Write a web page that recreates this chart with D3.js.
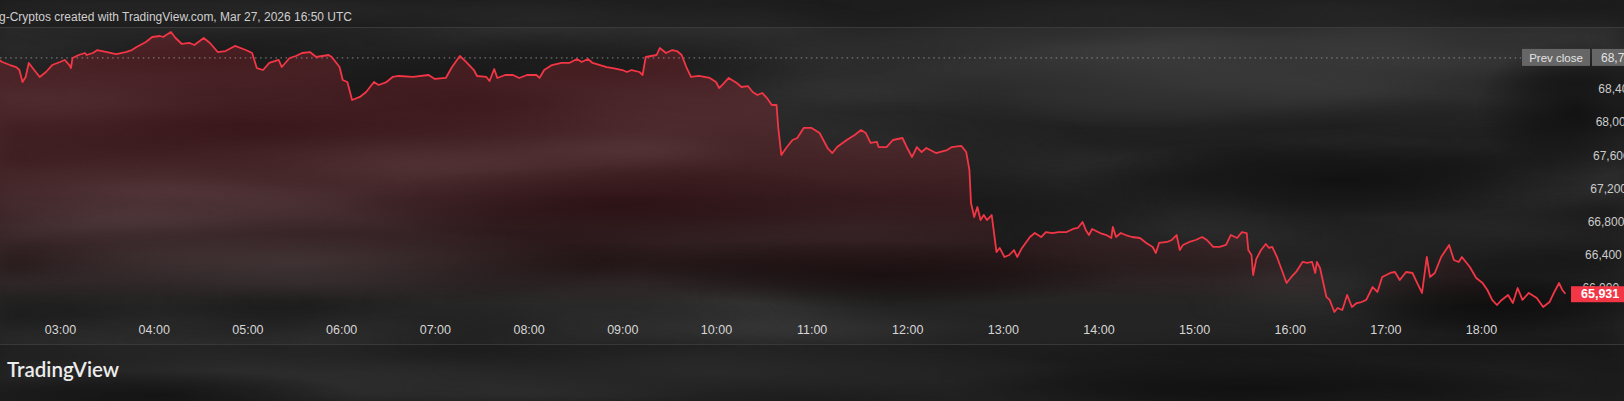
<!DOCTYPE html>
<html><head><meta charset="utf-8">
<script src="https://cdn.jsdelivr.net/npm/d3@7"></script>
<style>html,body{margin:0;padding:0;background:#222;overflow:hidden}svg{display:block}</style>
</head><body><svg id="c" width="1624" height="401"></svg>
<script>
// ---- data (chart time, minutes after 00:00) ----
const times = [
141.6,143.5,148.0,152.5,154.4,156.9,158.9,160.8,162.7,165.3,
167.2,171.7,175.5,180.0,183.2,186.4,187.7,188.3,192.8,196.0,
197.9,201.1,204.3,210.1,216.5,222.9,226.7,229.3,235.7,239.5,
244.0,246.0,251.1,254.9,258.8,263.2,266.4,272.2,276.0,281.2,
286.9,292.1,299.8,303.6,306.8,310.0,314.5,320.9,322.8,327.3,
331.8,335.6,340.1,344.6,352.9,354.8,359.3,361.2,364.4,367.6,
372.1,376.6,381.7,384.9,389.4,393.2,397.7,406.0,416.9,420.1,
427.8,431.0,436.1,440.6,445.7,447.6,453.4,455.3,458.5,460.5,
465.0,470.1,474.5,479.0,485.4,487.3,490.5,495.7,501.4,506.6,
511.0,514.9,518.1,521.3,530.2,534.1,540.5,543.0,546.9,551.4,
553.3,555.9,562.3,564.2,568.6,572.5,575.7,578.3,581.5,584.7,
589.8,596.2,600.6,602.5,605.6,608.8,613.2,616.9,620.1,623.2,
626.4,629.5,632.6,635.1,638.3,639.5,641.4,644.6,648.3,651.5,
655.8,660.2,665.3,668.4,670.3,673.4,676.6,682.2,687.2,691.0,
694.8,697.9,701.0,702.9,707.3,711.1,717.3,720.5,723.6,726.1,
729.3,732.4,738.7,745.0,748.7,754.4,757.5,759.4,760.6,762.5,
764.4,766.9,768.8,770.7,773.2,776.3,778.2,781.3,784.5,787.6,
789.5,792.6,797.0,800.2,804.6,807.7,811.5,815.9,820.3,824.0,
827.2,830.3,832.8,834.7,836.6,841.0,845.4,848.5,849.7,851.6,
854.8,857.9,861.7,866.1,870.5,874.2,876.8,878.7,883.1,886.8,
889.3,891.3,893.1,897.5,901.9,905.7,908.8,912.0,916.4,920.8,
923.9,927.1,930.8,933.3,934.0,936.5,937.7,939.6,942.8,945.9,
947.8,949.7,952.2,955.4,958.5,961.6,964.8,968.5,971.7,974.8,
976.1,977.3,979.2,983.6,985.5,988.6,990.5,993.7,996.8,999.3,
1002.5,1005.6,1008.8,1012.5,1015.6,1018.8,1023.2,1026.3,1029.2,1033.6,
1037.4,1040.5,1043.0,1046.2,1048.1,1051.2,1055.6,1060.6,1063.7,1066.9,
1068.8,1073.2,1077.6,1081.3,1084.5,1087.6,1090.7,1093.9,1097.0,1100.1,
1103.3,1106.4,1110.8,1115.2,1119.0,1123.3,1126.5,1129.6,1131.5,1133.4
];
const prices = [
68750,68726,68689,68665,68629,68484,68545,68714,68665,68593,
68545,68605,68689,68726,68750,68689,68653,68774,68810,68834,
68810,68834,68870,68846,68822,68846,68870,68907,68967,69027,
69039,69027,69087,69015,68943,68955,68931,69015,68955,68846,
68858,68919,68870,68834,68653,68629,68714,68750,68665,68774,
68798,68834,68846,68786,68810,68786,68665,68509,68484,68267,
68304,68364,68484,68448,68484,68545,68557,68545,68569,68521,
68533,68665,68798,68726,68629,68557,68545,68496,68641,68533,
68569,68569,68533,68569,68569,68533,68629,68689,68714,68714,
68762,68726,68762,68714,68665,68653,68629,68605,68629,68605,
68569,68786,68810,68894,68834,68870,68858,68810,68665,68545,
68557,68533,68484,68412,68472,68533,68472,68424,68436,68364,
68328,68352,68291,68207,68207,67942,67604,67688,67785,67809,
67930,67930,67869,67761,67688,67628,67700,67785,67845,67906,
67869,67749,67761,67700,67700,67785,67809,67688,67580,67700,
67640,67688,67628,67664,67700,67713,67640,67423,67025,66856,
66977,66820,66880,66820,66880,66434,66483,66374,66398,66458,
66374,66483,66615,66663,66615,66675,66663,66675,66675,66712,
66724,66796,66700,66639,66712,66663,66639,66603,66736,66615,
66663,66639,66615,66603,66543,66495,66422,66543,66555,66579,
66639,66458,66519,66555,66579,66615,66579,66495,66495,66519,
66639,66603,66675,66663,66458,66398,66157,66350,66458,66530,
66483,66495,66374,66217,66060,66133,66193,66314,66302,66314,
66181,66314,66241,65892,65856,65711,65759,65735,65916,65771,
65819,65831,65856,66012,65952,66133,66181,66193,66097,66193,
66181,66060,65940,66374,66133,66181,66374,66519,66338,66314,
66374,66253,66121,66060,65976,65856,65795,65856,65916,65819,
66000,65856,65940,65880,65771,65831,65952,66060,65976,65931
];
const hourLabels = ["02:00","03:00","04:00","05:00","06:00","07:00","08:00","09:00","10:00","11:00","12:00","13:00","14:00","15:00","16:00","17:00","18:00"];
const priceTicks = [66000,66400,66800,67200,67600,68000,68400];
const prevClose = 68775;
const lastPrice = 65931;
const titleText = "g-Cryptos created with TradingView.com, Mar 27, 2026 16:50 UTC";
const brandText = "TradingView";

// ---- setup ----
const W = 1624, H = 401;
const day = (m) => new Date(2026, 2, 27, 0, m);
const parseHM = d3.timeParse("%H:%M");
const toDay = (s) => { const t = parseHM(s); return day(t.getHours()*60 + t.getMinutes()); };
const fmt = d3.format(",");

const x = d3.scaleTime()
  .domain([toDay("03:00"), toDay("10:00"), toDay("18:00")])
  .range([60, 716, 1481]);
const y = d3.scaleLinear().domain([66000, 68400]).range([288, 89]);

const data = times.map((m, i) => ({t: day(m), v: prices[i]}));

const svg = d3.select("#c");
const defs = svg.append("defs");

function smoke(id, freq, seed, oct, c, a, b) {
  const f = defs.append("filter").attr("id", id)
    .attr("x", 0).attr("y", 0).attr("width", W).attr("height", H)
    .attr("filterUnits", "userSpaceOnUse")
    .attr("color-interpolation-filters", "sRGB");
  f.append("feTurbulence").attr("type", "fractalNoise").attr("baseFrequency", freq)
    .attr("numOctaves", oct).attr("seed", seed).attr("result", "n");
  f.append("feColorMatrix").attr("in", "n").attr("type", "matrix")
    .attr("values", `0 0 0 0 ${c} 0 0 0 0 ${c} 0 0 0 0 ${c} ${a} 0 0 0 ${b}`).attr("result", "m");
  f.append("feGaussianBlur").attr("in", "m").attr("stdDeviation", "10 4");
}
smoke("smokeLight", "0.0016 0.011", 7, 3, 0.26, 2.2, -0.9);
smoke("smokeDark", "0.0014 0.010", 23, 3, 0.06, 2.2, -0.92);

const rg = defs.append("linearGradient").attr("id", "redFill")
  .attr("gradientUnits", "userSpaceOnUse").attr("x1", 0).attr("x2", 0).attr("y1", 30).attr("y2", 310);
rg.append("stop").attr("offset", 0).attr("stop-color", "#d8283a").attr("stop-opacity", 0.24);
rg.append("stop").attr("offset", 0.55).attr("stop-color", "#d8283a").attr("stop-opacity", 0.17);
rg.append("stop").attr("offset", 0.85).attr("stop-color", "#d8283a").attr("stop-opacity", 0.07);
rg.append("stop").attr("offset", 1).attr("stop-color", "#d8283a").attr("stop-opacity", 0.0);

function blob(id, color, op) {
  const g = defs.append("radialGradient").attr("id", id);
  g.append("stop").attr("offset", 0).attr("stop-color", color).attr("stop-opacity", op);
  g.append("stop").attr("offset", 0.5).attr("stop-color", color).attr("stop-opacity", op * 0.6);
  g.append("stop").attr("offset", 1).attr("stop-color", color).attr("stop-opacity", 0);
}
blob("bLight", "#3c3c3c", 0.7);
blob("bDark", "#0a0a0a", 0.75);

// background
svg.append("rect").attr("width", W).attr("height", H).attr("fill", "#242424");
svg.append("rect").attr("width", W).attr("height", H).attr("filter", "url(#smokeLight)");
svg.append("rect").attr("width", W).attr("height", H).attr("filter", "url(#smokeDark)");
// large soft patches
const patches = svg.append("g");
[[1200, 85, 340, 45, "bLight"], [1340, 180, 280, 38, "bDark"], [880, 275, 250, 34, "bDark"],
 [1490, 305, 170, 30, "bDark"], [620, 205, 280, 40, "bDark"], [300, 262, 300, 40, "bLight"],
 [720, 372, 360, 30, "bLight"], [1260, 388, 320, 28, "bDark"], [1575, 110, 100, 70, "bDark"],
 [160, 395, 200, 25, "bDark"]]
  .forEach(p => patches.append("ellipse").attr("cx", p[0]).attr("cy", p[1]).attr("rx", p[2]).attr("ry", p[3])
    .attr("fill", `url(#${p[4]})`));
svg.append("rect").attr("width", W).attr("height", 27).attr("fill", "#141414").attr("opacity", 0.4);
svg.append("rect").attr("y", 345).attr("width", W).attr("height", H - 345).attr("fill", "#141414").attr("opacity", 0.3);

// separators
svg.append("line").attr("x1", 0).attr("x2", W).attr("y1", 27.5).attr("y2", 27.5).attr("stroke", "#3a3a3a");
svg.append("line").attr("x1", 0).attr("x2", W).attr("y1", 344.5).attr("y2", 344.5).attr("stroke", "#383838");

// area + line
const area = d3.area().x(d => x(d.t)).y0(314).y1(d => y(d.v));
const line = d3.line().x(d => x(d.t)).y(d => y(d.v));
svg.append("path").datum(data).attr("d", area).attr("fill", "url(#redFill)");

// prev close dotted line
svg.append("line").attr("x1", 0).attr("x2", 1521).attr("y1", y(prevClose)).attr("y2", y(prevClose))
  .attr("stroke", "#8a8a8a").attr("stroke-width", 1).attr("stroke-dasharray", "1.5 3.6");

svg.append("path").datum(data).attr("d", line).attr("fill", "none")
  .attr("stroke", "#f23645").attr("stroke-width", 1.8).attr("stroke-linejoin", "round");

// title
svg.append("text").attr("x", -1).attr("y", 20.5).text(titleText)
  .attr("font-family", "Liberation Sans, Arial, sans-serif").attr("font-size", 12)
  .attr("fill", "#cfcfcf").attr("textLength", 353).attr("lengthAdjust", "spacingAndGlyphs");

// x axis
const xAxis = d3.axisBottom(x).tickValues(hourLabels.map(toDay)).tickFormat(d3.timeFormat("%H:%M")).tickSize(0).tickPadding(0);
const gx = svg.append("g").attr("transform", "translate(0,320)").call(xAxis);
gx.select(".domain").remove();
gx.selectAll("text").attr("dy", 0).attr("y", 13.5)
  .attr("font-family", "Liberation Sans, Arial, sans-serif").attr("font-size", 12.5).attr("fill", "#d6d6d6");

// y axis labels (right), slight perspective drift
const yAxis = d3.axisRight(y).tickValues(priceTicks).tickFormat(fmt).tickSize(0).tickPadding(0);
const gy = svg.append("g").call(yAxis);
gy.select(".domain").remove();
gy.selectAll(".tick").attr("transform", d => `translate(${1598.3 - (y(d) - 89) * 0.08},${y(d)})`);
gy.selectAll("text").attr("x", 0).attr("dy", "0.36em")
  .attr("font-family", "Liberation Sans, Arial, sans-serif").attr("font-size", 12).attr("fill", "#cccccc").attr("text-anchor", "start");

// prev close labels
const py = y(prevClose);
svg.append("rect").attr("x", 1522).attr("y", py - 9).attr("width", 68).attr("height", 17).attr("fill", "#666666");
svg.append("text").attr("x", 1556).attr("y", py + 3.8).attr("text-anchor", "middle").text("Prev close")
  .attr("font-family", "Liberation Sans, Arial, sans-serif").attr("font-size", 11.5).attr("fill", "#e4e4e4");
svg.append("rect").attr("x", 1592).attr("y", py - 9).attr("width", 40).attr("height", 17).attr("fill", "#666666");
svg.append("text").attr("x", 1601).attr("y", py + 3.8).text(fmt(prevClose))
  .attr("font-family", "Liberation Sans, Arial, sans-serif").attr("font-size", 12).attr("fill", "#e4e4e4");

// last price label
const ly = y(lastPrice);
svg.append("rect").attr("x", 1571).attr("y", ly - 7.5).attr("width", 60).attr("height", 16).attr("fill", "#f23645");
svg.append("text").attr("x", 1581).attr("y", ly + 4.5).text(fmt(lastPrice))
  .attr("font-family", "Liberation Sans, Arial, sans-serif").attr("font-size", 12.5).attr("font-weight", 700).attr("fill", "#ffffff");

// brand
svg.append("text").attr("x", 7).attr("y", 377).text(brandText)
  .attr("font-family", "Lato, Open Sans, sans-serif").attr("font-weight", 600).attr("font-size", 20.5)
  .attr("fill", "#ececec");
</script>
</body></html>
